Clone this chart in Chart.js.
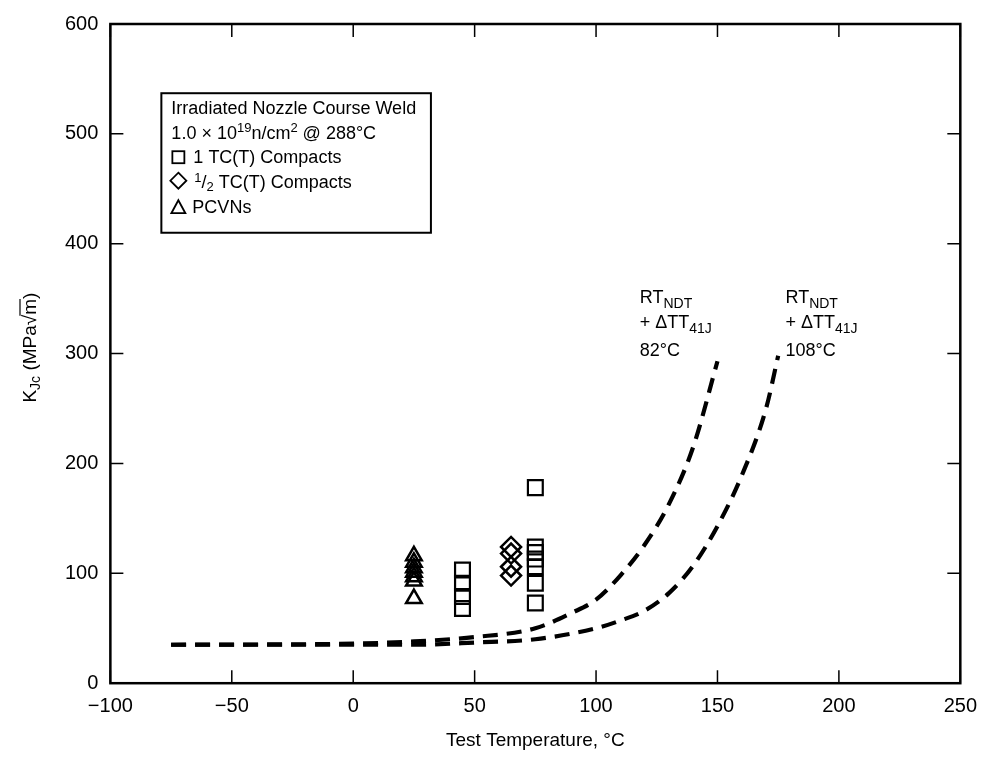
<!DOCTYPE html>
<html>
<head>
<meta charset="utf-8">
<script src="https://cdn.jsdelivr.net/npm/chart.js@4.4.1/dist/chart.umd.min.js"></script>
<style>
  body { margin: 0; background: #fff; }
</style>
</head>
<body>
<canvas id="myChart" width="988" height="759"></canvas>
<script>
// x: test temperature (C), y: KJc (MPa sqrt m)
const xMin = -100, xMax = 250, xStep = 50;
const yMin = 0, yMax = 600, yStep = 100;

// 1 TC(T) compacts
const oneTX = [45, 45, 45, 45, 75, 75, 75, 75, 75, 75, 75];
const oneTY = [103, 91, 79, 68, 178, 124, 119, 113, 106, 91, 73];
// 1/2 TC(T) compacts
const halfTX = [65, 65, 65, 65];
const halfTY = [124, 118, 106, 98];
// PCVNs
const pcvnX = [25, 25, 25, 25, 25, 25, 25];
const pcvnY = [77, 93, 97, 101, 105, 110, 116];

// master curves
const curve82X = [-75, 0, 25, 50, 75, 90, 100, 110, 120, 130, 140, 150];
const curve82Y = [35, 36, 38, 42, 50, 64, 76, 98, 126, 163, 215, 293];
const curve108X = [-75, 0, 25, 50, 75, 100, 110, 120, 130, 140, 150, 160, 170, 175];
const curve108Y = [35, 35, 35, 37, 40, 50, 57, 66, 82, 107, 143, 189, 250, 298];

const FONT = '"Liberation Sans", Arial, sans-serif';

const toPts = (xs, ys) => xs.map((x, i) => ({ x: x, y: ys[i] }));

// draw text made of runs: [text, size, dy]
const drawRuns = (ctx, runs, x, y) => {
    runs.forEach(r => {
        ctx.font = r[1] + 'px ' + FONT;
        ctx.fillText(r[0], x, y + (r[2] || 0));
        x += ctx.measureText(r[0]).width;
    });
    return x;
};

const framePlugin = {
    id: 'frame',
    afterDatasetsDraw(chart) {
        const ctx = chart.ctx;
        const a = chart.chartArea;
        const xs = chart.scales.x, ys = chart.scales.y;
        ctx.save();
        ctx.strokeStyle = '#000';
        ctx.lineWidth = 2.5;
        ctx.strokeRect(a.left, a.top, a.right - a.left, a.bottom - a.top);
        // inward ticks on all sides
        ctx.lineWidth = 1.5;
        const tl = 13;
        ctx.beginPath();
        xs.ticks.forEach(t => {
            const p = xs.getPixelForValue(t.value);
            ctx.moveTo(p, a.bottom); ctx.lineTo(p, a.bottom - tl);
            ctx.moveTo(p, a.top); ctx.lineTo(p, a.top + tl);
        });
        ys.ticks.forEach(t => {
            const p = ys.getPixelForValue(t.value);
            ctx.moveTo(a.left, p); ctx.lineTo(a.left + tl, p);
            ctx.moveTo(a.right, p); ctx.lineTo(a.right - tl, p);
        });
        ctx.stroke();

        ctx.fillStyle = '#000';
        ctx.textBaseline = 'alphabetic';
        ctx.textAlign = 'left';

        // y axis title
        ctx.save();
        ctx.translate(29, (a.top + a.bottom) / 2 - 6);
        ctx.rotate(-Math.PI / 2);
        const runs = [['K', 19], ['Jc', 14, 4], [' (MPa', 19], ['\u221A', 19], ['m', 19], [')', 19]];
        let w = 0;
        runs.forEach(r => { ctx.font = r[1] + 'px ' + FONT; w += ctx.measureText(r[0]).width; });
        let cx = -w / 2;
        runs.forEach((r, i) => {
            ctx.font = r[1] + 'px ' + FONT;
            const rw = ctx.measureText(r[0]).width;
            ctx.fillText(r[0], cx, 7 + (r[2] || 0));
            if (i === 4) {
                ctx.lineWidth = 1.2;
                ctx.beginPath();
                ctx.moveTo(cx - 1, -9); ctx.lineTo(cx + rw, -9);
                ctx.stroke();
            }
            cx += rw;
        });
        ctx.restore();

        // legend box
        const bx = xs.getPixelForValue(-79), by = ys.getPixelForValue(537);
        const bx2 = xs.getPixelForValue(32), by2 = ys.getPixelForValue(410);
        ctx.lineWidth = 2;
        ctx.strokeRect(bx, by, bx2 - bx, by2 - by);
        const lx = bx + 10, lh = 24.5;
        let ly = by + 21;
        drawRuns(ctx, [['Irradiated Nozzle Course Weld', 18]], lx, ly);
        ly += lh;
        drawRuns(ctx, [['1.0 \u00D7 10', 18], ['19', 13, -7], ['n/cm', 18], ['2', 13, -7], [' @ 288\u00B0C', 18]], lx, ly);
        ly += lh;
        ctx.lineWidth = 1.8;
        ctx.strokeRect(lx + 1, ly - 12, 12, 12);
        drawRuns(ctx, [['  1 TC(T) Compacts', 18]], lx + 12, ly);
        ly += lh;
        ctx.beginPath();
        ctx.moveTo(lx + 7, ly - 15); ctx.lineTo(lx + 15, ly - 7); ctx.lineTo(lx + 7, ly + 1); ctx.lineTo(lx - 1, ly - 7); ctx.closePath();
        ctx.stroke();
        drawRuns(ctx, [[' ', 18], ['1', 13, -6], ['/', 18], ['2', 13, 3], [' TC(T) Compacts', 18]], lx + 18, ly);
        ly += lh + 1;
        ctx.beginPath();
        ctx.moveTo(lx + 7, ly - 13); ctx.lineTo(lx + 14, ly); ctx.lineTo(lx, ly); ctx.closePath();
        ctx.stroke();
        drawRuns(ctx, [[' PCVNs', 18]], lx + 16, ly);

        // curve labels
        const labels = [[118, '82\u00B0C'], [178, '108\u00B0C']];
        labels.forEach(l => {
            const tx = xs.getPixelForValue(l[0]);
            let ty = ys.getPixelForValue(346);
            drawRuns(ctx, [['RT', 18], ['NDT', 14, 5]], tx, ty);
            ty += 25;
            drawRuns(ctx, [['+ \u0394TT', 18], ['41J', 14, 5]], tx, ty);
            ty += 28;
            drawRuns(ctx, [[l[1], 18]], tx, ty);
        });
        ctx.restore();
    }
};

const ctx = document.getElementById('myChart').getContext('2d');
new Chart(ctx, {
    type: 'scatter',
    data: {
        datasets: [
            {
                label: '1 TC(T) Compacts',
                data: toPts(oneTX, oneTY),
                pointStyle: 'rect',
                pointRadius: 10.5,
                borderColor: '#000',
                backgroundColor: 'rgba(0,0,0,0)',
                borderWidth: 2.2
            },
            {
                label: '1/2 TC(T) Compacts',
                data: toPts(halfTX, halfTY),
                pointStyle: 'rectRot',
                pointRadius: 10,
                borderColor: '#000',
                backgroundColor: 'rgba(0,0,0,0)',
                borderWidth: 2.5
            },
            {
                label: 'PCVNs',
                data: toPts(pcvnX, pcvnY),
                pointStyle: 'triangle',
                pointRadius: 9,
                borderColor: '#000',
                backgroundColor: 'rgba(0,0,0,0)',
                borderWidth: 2.5
            },
            {
                label: '82C',
                type: 'line',
                data: toPts(curve82X, curve82Y),
                borderColor: '#000',
                borderWidth: 4.2,
                borderDash: [15, 9],
                pointRadius: 0,
                fill: false,
                cubicInterpolationMode: 'monotone'
            },
            {
                label: '108C',
                type: 'line',
                data: toPts(curve108X, curve108Y),
                borderColor: '#000',
                borderWidth: 4.2,
                borderDash: [15, 9],
                pointRadius: 0,
                fill: false,
                cubicInterpolationMode: 'monotone'
            }
        ]
    },
    options: {
        responsive: false,
        animation: false,
        devicePixelRatio: 1,
        layout: { padding: { left: 53, right: 26, top: 5, bottom: 7 } },
        plugins: { legend: { display: false }, tooltip: { enabled: false } },
        scales: {
            x: {
                type: 'linear',
                min: xMin, max: xMax,
                grid: { display: false, drawTicks: false },
                border: { display: false },
                ticks: {
                    stepSize: xStep,
                    color: '#000',
                    padding: 11,
                    font: { family: FONT, size: 20 },
                    callback: v => String(v).replace('-', '\u2212')
                },
                title: {
                    display: true,
                    text: 'Test Temperature, \u00B0C',
                    color: '#000',
                    font: { family: FONT, size: 19 },
                    padding: { top: 0, bottom: 0 }
                }
            },
            y: {
                min: yMin, max: yMax,
                grid: { display: false, drawTicks: false },
                border: { display: false },
                ticks: {
                    stepSize: yStep,
                    color: '#000',
                    padding: 12,
                    font: { family: FONT, size: 20 }
                }
            }
        }
    },
    plugins: [framePlugin]
});
</script>
</body>
</html>
